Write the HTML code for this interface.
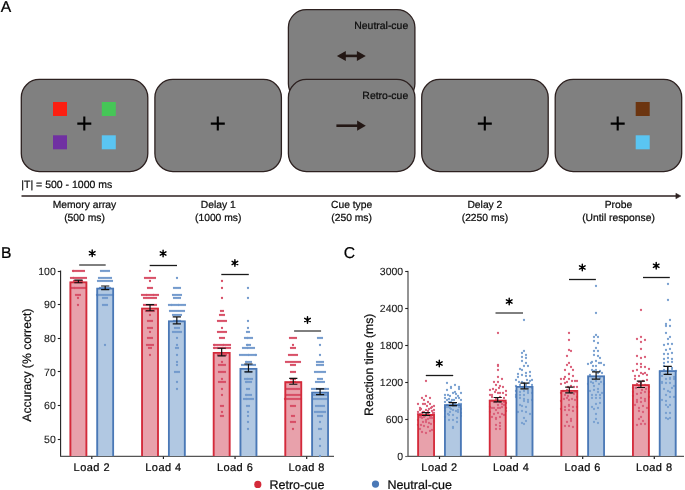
<!DOCTYPE html>
<html><head><meta charset="utf-8"><style>html,body{margin:0;padding:0;background:#fff;}svg{display:block;will-change:transform;text-rendering:geometricPrecision;} text{stroke:currentColor;stroke-width:0.22px;}</style></head>
<body><svg width="685" height="490" viewBox="0 0 685 490" font-family="'Liberation Sans', sans-serif">
<rect width="685" height="490" fill="#fff"/>
<text x="0.8" y="11.9" font-size="15.7" fill="#000">A</text>
<rect x="21.3" y="79.4" width="126.5" height="92.2" rx="18" ry="18" fill="#808080" stroke="#2d2120" stroke-width="1.3"/>
<rect x="53" y="102" width="14" height="14" fill="#fb1f12"/>
<rect x="101.8" y="102" width="14" height="14" fill="#46c657"/>
<rect x="53" y="135.3" width="14" height="14" fill="#7030a2"/>
<rect x="101.8" y="135.3" width="14" height="14" fill="#5ac5f2"/>
<path d="M77.3 123.6H91.3M84.3 116.6V130.6" stroke="#000" stroke-width="2.1" fill="none"/>
<rect x="154.9" y="79.4" width="126.5" height="92.2" rx="18" ry="18" fill="#808080" stroke="#2d2120" stroke-width="1.3"/>
<path d="M210.8 123.6H224.8M217.8 116.6V130.6" stroke="#000" stroke-width="2.1" fill="none"/>
<rect x="288.4" y="9.6" width="126.5" height="92.2" rx="18" ry="18" fill="#808080" stroke="#2d2120" stroke-width="1.3"/>
<text x="408.2" y="29.2" font-size="10.45" text-anchor="end" fill="#111">Neutral-cue</text>
<path d="M344.9 55.9H357.8" stroke="#231714" stroke-width="2.6"/>
<path d="M336.9 55.9L345.79999999999995 50.9L345.79999999999995 60.9Z" fill="#231714"/>
<path d="M365.8 55.9L356.90000000000003 50.9L356.90000000000003 60.9Z" fill="#231714"/>
<rect x="288.4" y="79.4" width="126.5" height="92.2" rx="18" ry="18" fill="#808080" stroke="#2d2120" stroke-width="1.3"/>
<text x="408.2" y="99.2" font-size="10.45" text-anchor="end" fill="#111">Retro-cue</text>
<path d="M336.4 125.7H357.8" stroke="#231714" stroke-width="2.6"/>
<path d="M365.8 125.7L357.1 120.60000000000001L357.1 130.8Z" fill="#231714"/>
<rect x="421.7" y="79.4" width="126.5" height="92.2" rx="18" ry="18" fill="#808080" stroke="#2d2120" stroke-width="1.3"/>
<path d="M477.8 123.6H491.8M484.8 116.6V130.6" stroke="#000" stroke-width="2.1" fill="none"/>
<rect x="555.2" y="79.4" width="126.5" height="92.2" rx="18" ry="18" fill="#808080" stroke="#2d2120" stroke-width="1.3"/>
<path d="M610.7 123.6H624.7M617.7 116.6V130.6" stroke="#000" stroke-width="2.1" fill="none"/>
<rect x="635.7" y="102" width="14" height="14" fill="#6c3510"/>
<rect x="635.7" y="135.3" width="14" height="14" fill="#5ac5f2"/>
<text x="21.3" y="187.6" font-size="10.5" fill="#111">|T| = 500 - 1000 ms</text>
<path d="M21.5 196H677.5" stroke="#2d2120" stroke-width="1.3"/>
<path d="M680.9 196L675.9 193.3L675.9 198.7Z" fill="#2d2120" stroke="#2d2120" stroke-width="0.5" stroke-linejoin="round"/>
<text x="84.5" y="208.4" font-size="10.3" text-anchor="middle" fill="#111">Memory array</text>
<text x="84.5" y="220.6" font-size="10.3" text-anchor="middle" fill="#111">(500 ms)</text>
<text x="218.2" y="208.4" font-size="10.3" text-anchor="middle" fill="#111">Delay 1</text>
<text x="218.2" y="220.6" font-size="10.3" text-anchor="middle" fill="#111">(1000 ms)</text>
<text x="351.6" y="208.4" font-size="10.3" text-anchor="middle" fill="#111">Cue type</text>
<text x="351.6" y="220.6" font-size="10.3" text-anchor="middle" fill="#111">(250 ms)</text>
<text x="484.9" y="208.4" font-size="10.3" text-anchor="middle" fill="#111">Delay 2</text>
<text x="484.9" y="220.6" font-size="10.3" text-anchor="middle" fill="#111">(2250 ms)</text>
<text x="618.5" y="208.4" font-size="10.3" text-anchor="middle" fill="#111">Probe</text>
<text x="618.5" y="220.6" font-size="10.3" text-anchor="middle" fill="#111">(Until response)</text>
<text x="1" y="258.3" font-size="15.7" fill="#000">B</text>
<path d="M60.6 270.50V456.5" stroke="#222" stroke-width="1.1" fill="none"/>
<path d="M60.1 456.3H334" stroke="#555" stroke-width="1.2" fill="none"/>
<path d="M57.800000000000004 439.50H60.6" stroke="#222" stroke-width="1.1"/>
<text x="55.800000000000004" y="442.90" font-size="10.5" text-anchor="end" fill="#222" style="stroke-width:0.08px">50</text>
<path d="M57.800000000000004 405.50H60.6" stroke="#222" stroke-width="1.1"/>
<text x="55.800000000000004" y="409.26" font-size="10.5" text-anchor="end" fill="#222" style="stroke-width:0.08px">60</text>
<path d="M57.800000000000004 371.50H60.6" stroke="#222" stroke-width="1.1"/>
<text x="55.800000000000004" y="375.62" font-size="10.5" text-anchor="end" fill="#222" style="stroke-width:0.08px">70</text>
<path d="M57.800000000000004 338.50H60.6" stroke="#222" stroke-width="1.1"/>
<text x="55.800000000000004" y="341.98" font-size="10.5" text-anchor="end" fill="#222" style="stroke-width:0.08px">80</text>
<path d="M57.800000000000004 304.50H60.6" stroke="#222" stroke-width="1.1"/>
<text x="55.800000000000004" y="308.34" font-size="10.5" text-anchor="end" fill="#222" style="stroke-width:0.08px">90</text>
<path d="M57.800000000000004 271.50H60.6" stroke="#222" stroke-width="1.1"/>
<text x="55.800000000000004" y="274.70" font-size="10.5" text-anchor="end" fill="#222" style="stroke-width:0.08px">100</text>
<path d="M91.80 456.5V459" stroke="#222" stroke-width="1.2"/>
<text x="91.80" y="470.7" font-size="11" letter-spacing="0.45" text-anchor="middle" fill="#111">Load 2</text>
<path d="M163.43 456.5V459" stroke="#222" stroke-width="1.2"/>
<text x="163.43" y="470.7" font-size="11" letter-spacing="0.45" text-anchor="middle" fill="#111">Load 4</text>
<path d="M235.06 456.5V459" stroke="#222" stroke-width="1.2"/>
<text x="235.06" y="470.7" font-size="11" letter-spacing="0.45" text-anchor="middle" fill="#111">Load 6</text>
<path d="M306.69 456.5V459" stroke="#222" stroke-width="1.2"/>
<text x="306.69" y="470.7" font-size="11" letter-spacing="0.45" text-anchor="middle" fill="#111">Load 8</text>
<text transform="translate(31,365.1) rotate(-90)" font-size="12.2" text-anchor="middle" fill="#111">Accuracy (% correct)</text>
<rect x="69.55" y="281.43" width="17.7" height="174.67" fill="#e8a1ab"/>
<g fill="#d74c64"><circle cx="73" cy="271" r="1.15"/><circle cx="74" cy="271" r="1.15"/><circle cx="76" cy="271" r="1.15"/><circle cx="78" cy="271" r="1.15"/><circle cx="80" cy="271" r="1.15"/><circle cx="82" cy="271" r="1.15"/><circle cx="84" cy="271" r="1.15"/><circle cx="71" cy="278" r="1.15"/><circle cx="73" cy="278" r="1.15"/><circle cx="74" cy="278" r="1.15"/><circle cx="76" cy="278" r="1.15"/><circle cx="78" cy="278" r="1.15"/><circle cx="80" cy="278" r="1.15"/><circle cx="82" cy="278" r="1.15"/><circle cx="84" cy="278" r="1.15"/><circle cx="86" cy="278" r="1.15"/><circle cx="74" cy="281" r="1.15"/><circle cx="76" cy="281" r="1.15"/><circle cx="78" cy="281" r="1.15"/><circle cx="80" cy="281" r="1.15"/><circle cx="82" cy="281" r="1.15"/><circle cx="72" cy="288" r="1.15"/><circle cx="74" cy="288" r="1.15"/><circle cx="75" cy="288" r="1.15"/><circle cx="77" cy="288" r="1.15"/><circle cx="79" cy="288" r="1.15"/><circle cx="81" cy="288" r="1.15"/><circle cx="83" cy="288" r="1.15"/><circle cx="85" cy="288" r="1.15"/><circle cx="76" cy="295" r="1.15"/><circle cx="78" cy="295" r="1.15"/><circle cx="80" cy="295" r="1.15"/><circle cx="78" cy="298" r="1.15"/><circle cx="78" cy="305" r="1.15"/></g>
<path d="M70.45 456.1V282.33H86.35V456.1" fill="none" stroke="#d42a3a" stroke-width="1.8"/>
<path d="M74.30 280.13H82.50M74.30 282.73H82.50M78.40 280.13V282.73" stroke="#111" stroke-width="1.2" fill="none"/>
<rect x="96.35" y="287.82" width="17.7" height="168.28" fill="#b1c8e2"/>
<g fill="#7199cc"><circle cx="101" cy="271" r="1.15"/><circle cx="103" cy="271" r="1.15"/><circle cx="105" cy="271" r="1.15"/><circle cx="107" cy="271" r="1.15"/><circle cx="109" cy="271" r="1.15"/><circle cx="99" cy="278" r="1.15"/><circle cx="101" cy="278" r="1.15"/><circle cx="103" cy="278" r="1.15"/><circle cx="105" cy="278" r="1.15"/><circle cx="107" cy="278" r="1.15"/><circle cx="109" cy="278" r="1.15"/><circle cx="111" cy="278" r="1.15"/><circle cx="98" cy="281" r="1.15"/><circle cx="100" cy="281" r="1.15"/><circle cx="102" cy="281" r="1.15"/><circle cx="104" cy="281" r="1.15"/><circle cx="106" cy="281" r="1.15"/><circle cx="108" cy="281" r="1.15"/><circle cx="110" cy="281" r="1.15"/><circle cx="112" cy="281" r="1.15"/><circle cx="100" cy="288" r="1.15"/><circle cx="102" cy="288" r="1.15"/><circle cx="104" cy="288" r="1.15"/><circle cx="106" cy="288" r="1.15"/><circle cx="108" cy="288" r="1.15"/><circle cx="110" cy="288" r="1.15"/><circle cx="97" cy="295" r="1.15"/><circle cx="99" cy="295" r="1.15"/><circle cx="101" cy="295" r="1.15"/><circle cx="103" cy="295" r="1.15"/><circle cx="105" cy="295" r="1.15"/><circle cx="107" cy="295" r="1.15"/><circle cx="109" cy="295" r="1.15"/><circle cx="111" cy="295" r="1.15"/><circle cx="113" cy="295" r="1.15"/><circle cx="103" cy="298" r="1.15"/><circle cx="105" cy="298" r="1.15"/><circle cx="107" cy="298" r="1.15"/><circle cx="103" cy="305" r="1.15"/><circle cx="105" cy="305" r="1.15"/><circle cx="107" cy="305" r="1.15"/><circle cx="105" cy="345" r="1.15"/></g>
<path d="M97.25 456.1V288.72H113.15V456.1" fill="none" stroke="#4a78b6" stroke-width="1.8"/>
<path d="M101.10 286.02H109.30M101.10 289.62H109.30M105.20 286.02V289.62" stroke="#111" stroke-width="1.2" fill="none"/>
<rect x="141.18" y="307.67" width="17.7" height="148.43" fill="#e8a1ab"/>
<g fill="#d74c64"><circle cx="150" cy="271" r="1.15"/><circle cx="145" cy="278" r="1.15"/><circle cx="147" cy="278" r="1.15"/><circle cx="149" cy="278" r="1.15"/><circle cx="151" cy="278" r="1.15"/><circle cx="153" cy="278" r="1.15"/><circle cx="155" cy="278" r="1.15"/><circle cx="150" cy="281" r="1.15"/><circle cx="148" cy="288" r="1.15"/><circle cx="150" cy="288" r="1.15"/><circle cx="152" cy="288" r="1.15"/><circle cx="142" cy="295" r="1.15"/><circle cx="144" cy="295" r="1.15"/><circle cx="146" cy="295" r="1.15"/><circle cx="147" cy="295" r="1.15"/><circle cx="149" cy="295" r="1.15"/><circle cx="151" cy="295" r="1.15"/><circle cx="153" cy="295" r="1.15"/><circle cx="154" cy="295" r="1.15"/><circle cx="156" cy="295" r="1.15"/><circle cx="158" cy="295" r="1.15"/><circle cx="144" cy="298" r="1.15"/><circle cx="146" cy="298" r="1.15"/><circle cx="148" cy="298" r="1.15"/><circle cx="150" cy="298" r="1.15"/><circle cx="152" cy="298" r="1.15"/><circle cx="154" cy="298" r="1.15"/><circle cx="156" cy="298" r="1.15"/><circle cx="144" cy="305" r="1.15"/><circle cx="146" cy="305" r="1.15"/><circle cx="148" cy="305" r="1.15"/><circle cx="150" cy="305" r="1.15"/><circle cx="152" cy="305" r="1.15"/><circle cx="154" cy="305" r="1.15"/><circle cx="156" cy="305" r="1.15"/><circle cx="146" cy="311" r="1.15"/><circle cx="148" cy="311" r="1.15"/><circle cx="150" cy="311" r="1.15"/><circle cx="152" cy="311" r="1.15"/><circle cx="154" cy="311" r="1.15"/><circle cx="150" cy="315" r="1.15"/><circle cx="148" cy="321" r="1.15"/><circle cx="150" cy="321" r="1.15"/><circle cx="152" cy="321" r="1.15"/><circle cx="148" cy="328" r="1.15"/><circle cx="150" cy="328" r="1.15"/><circle cx="152" cy="328" r="1.15"/><circle cx="150" cy="332" r="1.15"/><circle cx="148" cy="338" r="1.15"/><circle cx="150" cy="338" r="1.15"/><circle cx="152" cy="338" r="1.15"/><circle cx="147" cy="345" r="1.15"/><circle cx="149" cy="345" r="1.15"/><circle cx="151" cy="345" r="1.15"/><circle cx="153" cy="345" r="1.15"/><circle cx="149" cy="348" r="1.15"/><circle cx="151" cy="348" r="1.15"/><circle cx="150" cy="355" r="1.15"/></g>
<path d="M142.08 456.1V308.57H157.98V456.1" fill="none" stroke="#d42a3a" stroke-width="1.8"/>
<path d="M145.93 304.57H154.13M145.93 310.77H154.13M150.03 304.57V310.77" stroke="#111" stroke-width="1.2" fill="none"/>
<rect x="167.98" y="320.45" width="17.7" height="135.65" fill="#b1c8e2"/>
<g fill="#7199cc"><circle cx="177" cy="278" r="1.15"/><circle cx="174" cy="288" r="1.15"/><circle cx="176" cy="288" r="1.15"/><circle cx="178" cy="288" r="1.15"/><circle cx="180" cy="288" r="1.15"/><circle cx="173" cy="295" r="1.15"/><circle cx="175" cy="295" r="1.15"/><circle cx="177" cy="295" r="1.15"/><circle cx="179" cy="295" r="1.15"/><circle cx="181" cy="295" r="1.15"/><circle cx="174" cy="298" r="1.15"/><circle cx="176" cy="298" r="1.15"/><circle cx="178" cy="298" r="1.15"/><circle cx="180" cy="298" r="1.15"/><circle cx="169" cy="305" r="1.15"/><circle cx="171" cy="305" r="1.15"/><circle cx="172" cy="305" r="1.15"/><circle cx="174" cy="305" r="1.15"/><circle cx="176" cy="305" r="1.15"/><circle cx="178" cy="305" r="1.15"/><circle cx="179" cy="305" r="1.15"/><circle cx="181" cy="305" r="1.15"/><circle cx="183" cy="305" r="1.15"/><circle cx="185" cy="305" r="1.15"/><circle cx="170" cy="311" r="1.15"/><circle cx="172" cy="311" r="1.15"/><circle cx="174" cy="311" r="1.15"/><circle cx="176" cy="311" r="1.15"/><circle cx="178" cy="311" r="1.15"/><circle cx="180" cy="311" r="1.15"/><circle cx="182" cy="311" r="1.15"/><circle cx="184" cy="311" r="1.15"/><circle cx="173" cy="315" r="1.15"/><circle cx="175" cy="315" r="1.15"/><circle cx="177" cy="315" r="1.15"/><circle cx="179" cy="315" r="1.15"/><circle cx="181" cy="315" r="1.15"/><circle cx="174" cy="321" r="1.15"/><circle cx="176" cy="321" r="1.15"/><circle cx="178" cy="321" r="1.15"/><circle cx="180" cy="321" r="1.15"/><circle cx="175" cy="328" r="1.15"/><circle cx="177" cy="328" r="1.15"/><circle cx="179" cy="328" r="1.15"/><circle cx="173" cy="332" r="1.15"/><circle cx="175" cy="332" r="1.15"/><circle cx="177" cy="332" r="1.15"/><circle cx="179" cy="332" r="1.15"/><circle cx="181" cy="332" r="1.15"/><circle cx="177" cy="338" r="1.15"/><circle cx="177" cy="345" r="1.15"/><circle cx="176" cy="348" r="1.15"/><circle cx="178" cy="348" r="1.15"/><circle cx="177" cy="355" r="1.15"/><circle cx="177" cy="362" r="1.15"/><circle cx="177" cy="365" r="1.15"/><circle cx="175" cy="372" r="1.15"/><circle cx="177" cy="372" r="1.15"/><circle cx="179" cy="372" r="1.15"/><circle cx="177" cy="382" r="1.15"/><circle cx="177" cy="389" r="1.15"/></g>
<path d="M168.88 456.1V321.35H184.78V456.1" fill="none" stroke="#4a78b6" stroke-width="1.8"/>
<path d="M172.73 316.95H180.93M172.73 323.95H180.93M176.83 316.95V323.95" stroke="#111" stroke-width="1.2" fill="none"/>
<rect x="212.81" y="352.07" width="17.7" height="104.03" fill="#e8a1ab"/>
<g fill="#d74c64"><circle cx="222" cy="281" r="1.15"/><circle cx="222" cy="288" r="1.15"/><circle cx="222" cy="298" r="1.15"/><circle cx="221" cy="311" r="1.15"/><circle cx="223" cy="311" r="1.15"/><circle cx="220" cy="315" r="1.15"/><circle cx="222" cy="315" r="1.15"/><circle cx="224" cy="315" r="1.15"/><circle cx="218" cy="321" r="1.15"/><circle cx="220" cy="321" r="1.15"/><circle cx="222" cy="321" r="1.15"/><circle cx="224" cy="321" r="1.15"/><circle cx="226" cy="321" r="1.15"/><circle cx="222" cy="328" r="1.15"/><circle cx="218" cy="332" r="1.15"/><circle cx="220" cy="332" r="1.15"/><circle cx="222" cy="332" r="1.15"/><circle cx="224" cy="332" r="1.15"/><circle cx="226" cy="332" r="1.15"/><circle cx="220" cy="338" r="1.15"/><circle cx="222" cy="338" r="1.15"/><circle cx="224" cy="338" r="1.15"/><circle cx="214" cy="345" r="1.15"/><circle cx="215" cy="345" r="1.15"/><circle cx="217" cy="345" r="1.15"/><circle cx="219" cy="345" r="1.15"/><circle cx="221" cy="345" r="1.15"/><circle cx="223" cy="345" r="1.15"/><circle cx="224" cy="345" r="1.15"/><circle cx="226" cy="345" r="1.15"/><circle cx="228" cy="345" r="1.15"/><circle cx="230" cy="345" r="1.15"/><circle cx="214" cy="348" r="1.15"/><circle cx="215" cy="348" r="1.15"/><circle cx="217" cy="348" r="1.15"/><circle cx="218" cy="348" r="1.15"/><circle cx="220" cy="348" r="1.15"/><circle cx="222" cy="348" r="1.15"/><circle cx="223" cy="348" r="1.15"/><circle cx="225" cy="348" r="1.15"/><circle cx="226" cy="348" r="1.15"/><circle cx="228" cy="348" r="1.15"/><circle cx="230" cy="348" r="1.15"/><circle cx="218" cy="355" r="1.15"/><circle cx="220" cy="355" r="1.15"/><circle cx="222" cy="355" r="1.15"/><circle cx="224" cy="355" r="1.15"/><circle cx="226" cy="355" r="1.15"/><circle cx="222" cy="362" r="1.15"/><circle cx="219" cy="365" r="1.15"/><circle cx="221" cy="365" r="1.15"/><circle cx="223" cy="365" r="1.15"/><circle cx="225" cy="365" r="1.15"/><circle cx="219" cy="372" r="1.15"/><circle cx="221" cy="372" r="1.15"/><circle cx="223" cy="372" r="1.15"/><circle cx="225" cy="372" r="1.15"/><circle cx="222" cy="379" r="1.15"/><circle cx="219" cy="382" r="1.15"/><circle cx="221" cy="382" r="1.15"/><circle cx="223" cy="382" r="1.15"/><circle cx="225" cy="382" r="1.15"/><circle cx="222" cy="389" r="1.15"/><circle cx="222" cy="395" r="1.15"/><circle cx="221" cy="406" r="1.15"/><circle cx="223" cy="406" r="1.15"/><circle cx="222" cy="412" r="1.15"/><circle cx="221" cy="416" r="1.15"/><circle cx="223" cy="416" r="1.15"/></g>
<path d="M213.71 456.1V352.97H229.61V456.1" fill="none" stroke="#d42a3a" stroke-width="1.8"/>
<path d="M217.56 348.27H225.76M217.56 355.87H225.76M221.66 348.27V355.87" stroke="#111" stroke-width="1.2" fill="none"/>
<rect x="239.61" y="367.88" width="17.7" height="88.22" fill="#b1c8e2"/>
<g fill="#7199cc"><circle cx="248" cy="288" r="1.15"/><circle cx="248" cy="298" r="1.15"/><circle cx="248" cy="321" r="1.15"/><circle cx="248" cy="328" r="1.15"/><circle cx="247" cy="332" r="1.15"/><circle cx="249" cy="332" r="1.15"/><circle cx="245" cy="338" r="1.15"/><circle cx="247" cy="338" r="1.15"/><circle cx="248" cy="338" r="1.15"/><circle cx="250" cy="338" r="1.15"/><circle cx="252" cy="338" r="1.15"/><circle cx="247" cy="345" r="1.15"/><circle cx="248" cy="345" r="1.15"/><circle cx="250" cy="345" r="1.15"/><circle cx="243" cy="348" r="1.15"/><circle cx="245" cy="348" r="1.15"/><circle cx="247" cy="348" r="1.15"/><circle cx="248" cy="348" r="1.15"/><circle cx="250" cy="348" r="1.15"/><circle cx="252" cy="348" r="1.15"/><circle cx="254" cy="348" r="1.15"/><circle cx="240" cy="355" r="1.15"/><circle cx="242" cy="355" r="1.15"/><circle cx="244" cy="355" r="1.15"/><circle cx="246" cy="355" r="1.15"/><circle cx="248" cy="355" r="1.15"/><circle cx="249" cy="355" r="1.15"/><circle cx="251" cy="355" r="1.15"/><circle cx="253" cy="355" r="1.15"/><circle cx="255" cy="355" r="1.15"/><circle cx="256" cy="355" r="1.15"/><circle cx="246" cy="362" r="1.15"/><circle cx="247" cy="362" r="1.15"/><circle cx="249" cy="362" r="1.15"/><circle cx="251" cy="362" r="1.15"/><circle cx="242" cy="365" r="1.15"/><circle cx="244" cy="365" r="1.15"/><circle cx="246" cy="365" r="1.15"/><circle cx="247" cy="365" r="1.15"/><circle cx="249" cy="365" r="1.15"/><circle cx="251" cy="365" r="1.15"/><circle cx="253" cy="365" r="1.15"/><circle cx="255" cy="365" r="1.15"/><circle cx="246" cy="372" r="1.15"/><circle cx="247" cy="372" r="1.15"/><circle cx="249" cy="372" r="1.15"/><circle cx="251" cy="372" r="1.15"/><circle cx="245" cy="379" r="1.15"/><circle cx="247" cy="379" r="1.15"/><circle cx="248" cy="379" r="1.15"/><circle cx="250" cy="379" r="1.15"/><circle cx="252" cy="379" r="1.15"/><circle cx="246" cy="382" r="1.15"/><circle cx="247" cy="382" r="1.15"/><circle cx="249" cy="382" r="1.15"/><circle cx="251" cy="382" r="1.15"/><circle cx="247" cy="389" r="1.15"/><circle cx="249" cy="389" r="1.15"/><circle cx="246" cy="395" r="1.15"/><circle cx="247" cy="395" r="1.15"/><circle cx="249" cy="395" r="1.15"/><circle cx="251" cy="395" r="1.15"/><circle cx="244" cy="399" r="1.15"/><circle cx="246" cy="399" r="1.15"/><circle cx="247" cy="399" r="1.15"/><circle cx="249" cy="399" r="1.15"/><circle cx="251" cy="399" r="1.15"/><circle cx="253" cy="399" r="1.15"/><circle cx="247" cy="406" r="1.15"/><circle cx="249" cy="406" r="1.15"/><circle cx="248" cy="412" r="1.15"/><circle cx="248" cy="416" r="1.15"/><circle cx="248" cy="422" r="1.15"/><circle cx="248" cy="429" r="1.15"/></g>
<path d="M240.51 456.1V368.78H256.41V456.1" fill="none" stroke="#4a78b6" stroke-width="1.8"/>
<path d="M244.36 363.98H252.56M244.36 371.78H252.56M248.46 363.98V371.78" stroke="#111" stroke-width="1.2" fill="none"/>
<rect x="284.44" y="381.34" width="17.7" height="74.76" fill="#e8a1ab"/>
<g fill="#d74c64"><circle cx="290" cy="338" r="1.15"/><circle cx="292" cy="338" r="1.15"/><circle cx="294" cy="338" r="1.15"/><circle cx="296" cy="338" r="1.15"/><circle cx="293" cy="345" r="1.15"/><circle cx="291" cy="348" r="1.15"/><circle cx="293" cy="348" r="1.15"/><circle cx="295" cy="348" r="1.15"/><circle cx="289" cy="355" r="1.15"/><circle cx="291" cy="355" r="1.15"/><circle cx="293" cy="355" r="1.15"/><circle cx="295" cy="355" r="1.15"/><circle cx="297" cy="355" r="1.15"/><circle cx="286" cy="362" r="1.15"/><circle cx="288" cy="362" r="1.15"/><circle cx="290" cy="362" r="1.15"/><circle cx="292" cy="362" r="1.15"/><circle cx="294" cy="362" r="1.15"/><circle cx="296" cy="362" r="1.15"/><circle cx="298" cy="362" r="1.15"/><circle cx="300" cy="362" r="1.15"/><circle cx="291" cy="365" r="1.15"/><circle cx="293" cy="365" r="1.15"/><circle cx="295" cy="365" r="1.15"/><circle cx="291" cy="372" r="1.15"/><circle cx="293" cy="372" r="1.15"/><circle cx="295" cy="372" r="1.15"/><circle cx="291" cy="379" r="1.15"/><circle cx="293" cy="379" r="1.15"/><circle cx="295" cy="379" r="1.15"/><circle cx="291" cy="382" r="1.15"/><circle cx="293" cy="382" r="1.15"/><circle cx="295" cy="382" r="1.15"/><circle cx="287" cy="389" r="1.15"/><circle cx="289" cy="389" r="1.15"/><circle cx="291" cy="389" r="1.15"/><circle cx="293" cy="389" r="1.15"/><circle cx="295" cy="389" r="1.15"/><circle cx="297" cy="389" r="1.15"/><circle cx="299" cy="389" r="1.15"/><circle cx="286" cy="395" r="1.15"/><circle cx="288" cy="395" r="1.15"/><circle cx="290" cy="395" r="1.15"/><circle cx="292" cy="395" r="1.15"/><circle cx="294" cy="395" r="1.15"/><circle cx="296" cy="395" r="1.15"/><circle cx="298" cy="395" r="1.15"/><circle cx="300" cy="395" r="1.15"/><circle cx="285" cy="399" r="1.15"/><circle cx="287" cy="399" r="1.15"/><circle cx="289" cy="399" r="1.15"/><circle cx="291" cy="399" r="1.15"/><circle cx="293" cy="399" r="1.15"/><circle cx="295" cy="399" r="1.15"/><circle cx="297" cy="399" r="1.15"/><circle cx="299" cy="399" r="1.15"/><circle cx="301" cy="399" r="1.15"/><circle cx="291" cy="406" r="1.15"/><circle cx="293" cy="406" r="1.15"/><circle cx="295" cy="406" r="1.15"/><circle cx="292" cy="416" r="1.15"/><circle cx="294" cy="416" r="1.15"/><circle cx="291" cy="422" r="1.15"/><circle cx="293" cy="422" r="1.15"/><circle cx="295" cy="422" r="1.15"/><circle cx="293" cy="429" r="1.15"/></g>
<path d="M285.34 456.1V382.24H301.24V456.1" fill="none" stroke="#d42a3a" stroke-width="1.8"/>
<path d="M289.19 378.44H297.39M289.19 384.24H297.39M293.29 378.44V384.24" stroke="#111" stroke-width="1.2" fill="none"/>
<rect x="311.24" y="391.77" width="17.7" height="64.33" fill="#b1c8e2"/>
<g fill="#7199cc"><circle cx="318" cy="338" r="1.15"/><circle cx="320" cy="338" r="1.15"/><circle cx="322" cy="338" r="1.15"/><circle cx="320" cy="345" r="1.15"/><circle cx="320" cy="355" r="1.15"/><circle cx="317" cy="362" r="1.15"/><circle cx="319" cy="362" r="1.15"/><circle cx="321" cy="362" r="1.15"/><circle cx="323" cy="362" r="1.15"/><circle cx="317" cy="365" r="1.15"/><circle cx="319" cy="365" r="1.15"/><circle cx="321" cy="365" r="1.15"/><circle cx="323" cy="365" r="1.15"/><circle cx="315" cy="372" r="1.15"/><circle cx="317" cy="372" r="1.15"/><circle cx="319" cy="372" r="1.15"/><circle cx="321" cy="372" r="1.15"/><circle cx="323" cy="372" r="1.15"/><circle cx="325" cy="372" r="1.15"/><circle cx="318" cy="379" r="1.15"/><circle cx="320" cy="379" r="1.15"/><circle cx="322" cy="379" r="1.15"/><circle cx="316" cy="382" r="1.15"/><circle cx="318" cy="382" r="1.15"/><circle cx="320" cy="382" r="1.15"/><circle cx="322" cy="382" r="1.15"/><circle cx="324" cy="382" r="1.15"/><circle cx="312" cy="389" r="1.15"/><circle cx="314" cy="389" r="1.15"/><circle cx="316" cy="389" r="1.15"/><circle cx="317" cy="389" r="1.15"/><circle cx="319" cy="389" r="1.15"/><circle cx="321" cy="389" r="1.15"/><circle cx="323" cy="389" r="1.15"/><circle cx="325" cy="389" r="1.15"/><circle cx="326" cy="389" r="1.15"/><circle cx="328" cy="389" r="1.15"/><circle cx="313" cy="395" r="1.15"/><circle cx="315" cy="395" r="1.15"/><circle cx="317" cy="395" r="1.15"/><circle cx="319" cy="395" r="1.15"/><circle cx="321" cy="395" r="1.15"/><circle cx="323" cy="395" r="1.15"/><circle cx="325" cy="395" r="1.15"/><circle cx="327" cy="395" r="1.15"/><circle cx="313" cy="399" r="1.15"/><circle cx="315" cy="399" r="1.15"/><circle cx="317" cy="399" r="1.15"/><circle cx="319" cy="399" r="1.15"/><circle cx="321" cy="399" r="1.15"/><circle cx="323" cy="399" r="1.15"/><circle cx="325" cy="399" r="1.15"/><circle cx="327" cy="399" r="1.15"/><circle cx="316" cy="406" r="1.15"/><circle cx="318" cy="406" r="1.15"/><circle cx="320" cy="406" r="1.15"/><circle cx="322" cy="406" r="1.15"/><circle cx="324" cy="406" r="1.15"/><circle cx="315" cy="412" r="1.15"/><circle cx="317" cy="412" r="1.15"/><circle cx="319" cy="412" r="1.15"/><circle cx="321" cy="412" r="1.15"/><circle cx="323" cy="412" r="1.15"/><circle cx="325" cy="412" r="1.15"/><circle cx="318" cy="416" r="1.15"/><circle cx="320" cy="416" r="1.15"/><circle cx="322" cy="416" r="1.15"/><circle cx="320" cy="422" r="1.15"/><circle cx="319" cy="429" r="1.15"/><circle cx="321" cy="429" r="1.15"/><circle cx="320" cy="439" r="1.15"/><circle cx="320" cy="446" r="1.15"/><circle cx="320" cy="456" r="1.15"/></g>
<path d="M312.14 456.1V392.67H328.04V456.1" fill="none" stroke="#4a78b6" stroke-width="1.8"/>
<path d="M315.99 388.87H324.19M315.99 394.67H324.19M320.09 388.87V394.67" stroke="#111" stroke-width="1.2" fill="none"/>
<path d="M79.2 265H105.7" stroke="#000" stroke-width="1.0"/>
<path d="M92.2 249.95V256.45M89.39 251.57L95.01 254.82M89.39 254.82L95.01 251.57" stroke="#000" stroke-width="1.45" stroke-linecap="round"/>
<circle cx="92.2" cy="253.2" r="1.3" fill="#000"/>
<path d="M149.7 265.5H177" stroke="#1a1a1a" stroke-width="1.3"/>
<path d="M163.1 250.25V256.75M160.29 251.88L165.91 255.12M160.29 255.12L165.91 251.88" stroke="#000" stroke-width="1.45" stroke-linecap="round"/>
<circle cx="163.1" cy="253.5" r="1.3" fill="#000"/>
<path d="M221.3 274.5H248.8" stroke="#1a1a1a" stroke-width="1.3"/>
<path d="M234.9 259.65V266.15M232.09 261.27L237.71 264.52M232.09 264.52L237.71 261.27" stroke="#000" stroke-width="1.45" stroke-linecap="round"/>
<circle cx="234.9" cy="262.9" r="1.3" fill="#000"/>
<path d="M294.1 331H321.1" stroke="#000" stroke-width="1.0"/>
<path d="M307.5 316.65V323.15M304.69 318.27L310.31 321.52M304.69 321.52L310.31 318.27" stroke="#000" stroke-width="1.45" stroke-linecap="round"/>
<circle cx="307.5" cy="319.9" r="1.3" fill="#000"/>
<text x="343.7" y="258.3" font-size="15.7" fill="#000">C</text>
<path d="M408 270.86V456.5" stroke="#000" stroke-width="0.85" fill="none"/>
<path d="M407.5 456.3H684" stroke="#555" stroke-width="1.2" fill="none"/>
<path d="M405.2 456.50H408" stroke="#666" stroke-width="1.1"/>
<text x="403.2" y="459.80" font-size="10.5" text-anchor="end" fill="#222" style="stroke-width:0.08px">0</text>
<path d="M405.2 419.50H408" stroke="#222" stroke-width="1.1"/>
<text x="403.2" y="422.85" font-size="10.5" text-anchor="end" fill="#222" style="stroke-width:0.08px">600</text>
<path d="M405.2 382.50H408" stroke="#222" stroke-width="1.1"/>
<text x="403.2" y="385.90" font-size="10.5" text-anchor="end" fill="#222" style="stroke-width:0.08px">1200</text>
<path d="M405.2 345.50H408" stroke="#222" stroke-width="1.1"/>
<text x="403.2" y="348.96" font-size="10.5" text-anchor="end" fill="#222" style="stroke-width:0.08px">1800</text>
<path d="M405.2 308.50H408" stroke="#222" stroke-width="1.1"/>
<text x="403.2" y="312.01" font-size="10.5" text-anchor="end" fill="#222" style="stroke-width:0.08px">2400</text>
<path d="M405.2 271.50H408" stroke="#222" stroke-width="1.1"/>
<text x="403.2" y="275.06" font-size="10.5" text-anchor="end" fill="#222" style="stroke-width:0.08px">3000</text>
<path d="M439.50 456.5V459" stroke="#222" stroke-width="1.2"/>
<text x="439.50" y="470.7" font-size="11" letter-spacing="0.45" text-anchor="middle" fill="#111">Load 2</text>
<path d="M511.10 456.5V459" stroke="#222" stroke-width="1.2"/>
<text x="511.10" y="470.7" font-size="11" letter-spacing="0.45" text-anchor="middle" fill="#111">Load 4</text>
<path d="M582.70 456.5V459" stroke="#222" stroke-width="1.2"/>
<text x="582.70" y="470.7" font-size="11" letter-spacing="0.45" text-anchor="middle" fill="#111">Load 6</text>
<path d="M654.30 456.5V459" stroke="#222" stroke-width="1.2"/>
<text x="654.30" y="470.7" font-size="11" letter-spacing="0.45" text-anchor="middle" fill="#111">Load 8</text>
<text transform="translate(373,364.8) rotate(-90)" font-size="12.2" text-anchor="middle" fill="#111">Reaction time (ms)</text>
<rect x="417.25" y="414.10" width="17.7" height="42.00" fill="#e8a1ab"/>
<g fill="#da5e78"><circle cx="426" cy="381" r="1.15"/><circle cx="422" cy="398" r="1.15"/><circle cx="426" cy="396" r="1.15"/><circle cx="430" cy="398" r="1.15"/><circle cx="424" cy="400" r="1.15"/><circle cx="428" cy="402" r="1.15"/><circle cx="418" cy="404" r="1.15"/><circle cx="420" cy="408" r="1.15"/><circle cx="423" cy="404" r="1.15"/><circle cx="425" cy="404" r="1.15"/><circle cx="427" cy="406" r="1.15"/><circle cx="430" cy="404" r="1.15"/><circle cx="432" cy="407" r="1.15"/><circle cx="434" cy="406" r="1.15"/><circle cx="418" cy="412" r="1.15"/><circle cx="420" cy="410" r="1.15"/><circle cx="421" cy="409" r="1.15"/><circle cx="423" cy="412" r="1.15"/><circle cx="424" cy="412" r="1.15"/><circle cx="426" cy="410" r="1.15"/><circle cx="428" cy="411" r="1.15"/><circle cx="429" cy="409" r="1.15"/><circle cx="431" cy="408" r="1.15"/><circle cx="432" cy="411" r="1.15"/><circle cx="434" cy="410" r="1.15"/><circle cx="418" cy="414" r="1.15"/><circle cx="420" cy="414" r="1.15"/><circle cx="421" cy="417" r="1.15"/><circle cx="422" cy="413" r="1.15"/><circle cx="424" cy="416" r="1.15"/><circle cx="425" cy="416" r="1.15"/><circle cx="427" cy="415" r="1.15"/><circle cx="428" cy="414" r="1.15"/><circle cx="430" cy="416" r="1.15"/><circle cx="431" cy="416" r="1.15"/><circle cx="433" cy="413" r="1.15"/><circle cx="434" cy="413" r="1.15"/><circle cx="418" cy="420" r="1.15"/><circle cx="420" cy="417" r="1.15"/><circle cx="422" cy="418" r="1.15"/><circle cx="424" cy="417" r="1.15"/><circle cx="426" cy="420" r="1.15"/><circle cx="428" cy="419" r="1.15"/><circle cx="430" cy="418" r="1.15"/><circle cx="432" cy="418" r="1.15"/><circle cx="434" cy="421" r="1.15"/><circle cx="418" cy="425" r="1.15"/><circle cx="421" cy="425" r="1.15"/><circle cx="423" cy="422" r="1.15"/><circle cx="426" cy="422" r="1.15"/><circle cx="429" cy="423" r="1.15"/><circle cx="431" cy="424" r="1.15"/><circle cx="434" cy="422" r="1.15"/><circle cx="420" cy="429" r="1.15"/><circle cx="424" cy="426" r="1.15"/><circle cx="428" cy="427" r="1.15"/><circle cx="432" cy="430" r="1.15"/><circle cx="422" cy="432" r="1.15"/><circle cx="426" cy="433" r="1.15"/><circle cx="430" cy="431" r="1.15"/></g>
<path d="M418.15 456.1V415.00H434.05V456.1" fill="none" stroke="#d42a3a" stroke-width="1.8"/>
<path d="M422.00 412.70H430.20M422.00 415.50H430.20M426.10 412.70V415.50" stroke="#111" stroke-width="1.2" fill="none"/>
<rect x="444.05" y="404.13" width="17.7" height="51.97" fill="#b1c8e2"/>
<g fill="#79a0d0"><circle cx="447" cy="383" r="1.15"/><circle cx="451" cy="387" r="1.15"/><circle cx="455" cy="385" r="1.15"/><circle cx="459" cy="387" r="1.15"/><circle cx="447" cy="390" r="1.15"/><circle cx="451" cy="388" r="1.15"/><circle cx="455" cy="392" r="1.15"/><circle cx="459" cy="389" r="1.15"/><circle cx="445" cy="395" r="1.15"/><circle cx="448" cy="395" r="1.15"/><circle cx="450" cy="396" r="1.15"/><circle cx="453" cy="393" r="1.15"/><circle cx="456" cy="394" r="1.15"/><circle cx="458" cy="396" r="1.15"/><circle cx="461" cy="393" r="1.15"/><circle cx="445" cy="398" r="1.15"/><circle cx="447" cy="400" r="1.15"/><circle cx="449" cy="399" r="1.15"/><circle cx="452" cy="400" r="1.15"/><circle cx="454" cy="400" r="1.15"/><circle cx="456" cy="398" r="1.15"/><circle cx="459" cy="398" r="1.15"/><circle cx="461" cy="400" r="1.15"/><circle cx="445" cy="402" r="1.15"/><circle cx="447" cy="405" r="1.15"/><circle cx="449" cy="402" r="1.15"/><circle cx="451" cy="402" r="1.15"/><circle cx="453" cy="403" r="1.15"/><circle cx="455" cy="404" r="1.15"/><circle cx="457" cy="405" r="1.15"/><circle cx="459" cy="404" r="1.15"/><circle cx="461" cy="404" r="1.15"/><circle cx="445" cy="408" r="1.15"/><circle cx="446" cy="407" r="1.15"/><circle cx="448" cy="407" r="1.15"/><circle cx="450" cy="408" r="1.15"/><circle cx="451" cy="409" r="1.15"/><circle cx="453" cy="406" r="1.15"/><circle cx="454" cy="406" r="1.15"/><circle cx="456" cy="406" r="1.15"/><circle cx="458" cy="410" r="1.15"/><circle cx="459" cy="407" r="1.15"/><circle cx="461" cy="409" r="1.15"/><circle cx="445" cy="411" r="1.15"/><circle cx="448" cy="414" r="1.15"/><circle cx="450" cy="412" r="1.15"/><circle cx="453" cy="410" r="1.15"/><circle cx="456" cy="411" r="1.15"/><circle cx="458" cy="412" r="1.15"/><circle cx="461" cy="413" r="1.15"/><circle cx="445" cy="417" r="1.15"/><circle cx="449" cy="415" r="1.15"/><circle cx="453" cy="415" r="1.15"/><circle cx="457" cy="418" r="1.15"/><circle cx="461" cy="416" r="1.15"/><circle cx="449" cy="420" r="1.15"/><circle cx="453" cy="420" r="1.15"/><circle cx="457" cy="422" r="1.15"/><circle cx="453" cy="427" r="1.15"/><circle cx="453" cy="428" r="1.15"/></g>
<path d="M444.95 456.1V405.03H460.85V456.1" fill="none" stroke="#4a78b6" stroke-width="1.8"/>
<path d="M448.80 402.68H457.00M448.80 405.58H457.00M452.90 402.68V405.58" stroke="#111" stroke-width="1.2" fill="none"/>
<rect x="488.85" y="399.69" width="17.7" height="56.41" fill="#e8a1ab"/>
<g fill="#da5e78"><circle cx="498" cy="333" r="1.15"/><circle cx="498" cy="365" r="1.15"/><circle cx="498" cy="366" r="1.15"/><circle cx="498" cy="370" r="1.15"/><circle cx="498" cy="377" r="1.15"/><circle cx="494" cy="382" r="1.15"/><circle cx="498" cy="382" r="1.15"/><circle cx="502" cy="379" r="1.15"/><circle cx="496" cy="385" r="1.15"/><circle cx="500" cy="386" r="1.15"/><circle cx="490" cy="390" r="1.15"/><circle cx="493" cy="389" r="1.15"/><circle cx="496" cy="390" r="1.15"/><circle cx="499" cy="388" r="1.15"/><circle cx="503" cy="387" r="1.15"/><circle cx="506" cy="391" r="1.15"/><circle cx="490" cy="395" r="1.15"/><circle cx="492" cy="395" r="1.15"/><circle cx="495" cy="392" r="1.15"/><circle cx="498" cy="393" r="1.15"/><circle cx="500" cy="393" r="1.15"/><circle cx="503" cy="393" r="1.15"/><circle cx="506" cy="395" r="1.15"/><circle cx="492" cy="397" r="1.15"/><circle cx="496" cy="399" r="1.15"/><circle cx="500" cy="397" r="1.15"/><circle cx="504" cy="398" r="1.15"/><circle cx="490" cy="401" r="1.15"/><circle cx="492" cy="401" r="1.15"/><circle cx="494" cy="402" r="1.15"/><circle cx="496" cy="402" r="1.15"/><circle cx="498" cy="405" r="1.15"/><circle cx="500" cy="402" r="1.15"/><circle cx="502" cy="404" r="1.15"/><circle cx="504" cy="402" r="1.15"/><circle cx="506" cy="403" r="1.15"/><circle cx="490" cy="407" r="1.15"/><circle cx="492" cy="408" r="1.15"/><circle cx="494" cy="408" r="1.15"/><circle cx="496" cy="410" r="1.15"/><circle cx="498" cy="408" r="1.15"/><circle cx="500" cy="408" r="1.15"/><circle cx="502" cy="407" r="1.15"/><circle cx="504" cy="405" r="1.15"/><circle cx="506" cy="408" r="1.15"/><circle cx="490" cy="412" r="1.15"/><circle cx="494" cy="414" r="1.15"/><circle cx="498" cy="413" r="1.15"/><circle cx="502" cy="414" r="1.15"/><circle cx="506" cy="411" r="1.15"/><circle cx="492" cy="417" r="1.15"/><circle cx="496" cy="418" r="1.15"/><circle cx="500" cy="417" r="1.15"/><circle cx="504" cy="415" r="1.15"/><circle cx="496" cy="419" r="1.15"/><circle cx="500" cy="423" r="1.15"/><circle cx="496" cy="425" r="1.15"/><circle cx="500" cy="426" r="1.15"/><circle cx="496" cy="429" r="1.15"/><circle cx="500" cy="429" r="1.15"/></g>
<path d="M489.75 456.1V400.59H505.65V456.1" fill="none" stroke="#d42a3a" stroke-width="1.8"/>
<path d="M493.60 397.49H501.80M493.60 401.89H501.80M497.70 397.49V401.89" stroke="#111" stroke-width="1.2" fill="none"/>
<rect x="515.65" y="386.02" width="17.7" height="70.08" fill="#b1c8e2"/>
<g fill="#79a0d0"><circle cx="524" cy="320" r="1.15"/><circle cx="524" cy="351" r="1.15"/><circle cx="522" cy="353" r="1.15"/><circle cx="526" cy="355" r="1.15"/><circle cx="522" cy="357" r="1.15"/><circle cx="526" cy="358" r="1.15"/><circle cx="522" cy="361" r="1.15"/><circle cx="526" cy="363" r="1.15"/><circle cx="520" cy="369" r="1.15"/><circle cx="524" cy="366" r="1.15"/><circle cx="528" cy="366" r="1.15"/><circle cx="518" cy="374" r="1.15"/><circle cx="522" cy="370" r="1.15"/><circle cx="526" cy="373" r="1.15"/><circle cx="530" cy="372" r="1.15"/><circle cx="518" cy="377" r="1.15"/><circle cx="522" cy="375" r="1.15"/><circle cx="526" cy="376" r="1.15"/><circle cx="530" cy="376" r="1.15"/><circle cx="516" cy="380" r="1.15"/><circle cx="519" cy="382" r="1.15"/><circle cx="522" cy="382" r="1.15"/><circle cx="524" cy="383" r="1.15"/><circle cx="527" cy="380" r="1.15"/><circle cx="530" cy="381" r="1.15"/><circle cx="532" cy="380" r="1.15"/><circle cx="516" cy="386" r="1.15"/><circle cx="520" cy="385" r="1.15"/><circle cx="523" cy="387" r="1.15"/><circle cx="526" cy="385" r="1.15"/><circle cx="529" cy="383" r="1.15"/><circle cx="532" cy="385" r="1.15"/><circle cx="516" cy="391" r="1.15"/><circle cx="520" cy="392" r="1.15"/><circle cx="524" cy="391" r="1.15"/><circle cx="528" cy="391" r="1.15"/><circle cx="532" cy="388" r="1.15"/><circle cx="516" cy="395" r="1.15"/><circle cx="520" cy="395" r="1.15"/><circle cx="524" cy="395" r="1.15"/><circle cx="528" cy="393" r="1.15"/><circle cx="532" cy="393" r="1.15"/><circle cx="516" cy="397" r="1.15"/><circle cx="520" cy="398" r="1.15"/><circle cx="524" cy="399" r="1.15"/><circle cx="528" cy="400" r="1.15"/><circle cx="532" cy="400" r="1.15"/><circle cx="520" cy="405" r="1.15"/><circle cx="524" cy="401" r="1.15"/><circle cx="528" cy="402" r="1.15"/><circle cx="522" cy="406" r="1.15"/><circle cx="526" cy="407" r="1.15"/><circle cx="518" cy="412" r="1.15"/><circle cx="522" cy="411" r="1.15"/><circle cx="526" cy="412" r="1.15"/><circle cx="530" cy="414" r="1.15"/><circle cx="524" cy="418" r="1.15"/><circle cx="522" cy="423" r="1.15"/><circle cx="526" cy="421" r="1.15"/><circle cx="524" cy="424" r="1.15"/></g>
<path d="M516.55 456.1V386.92H532.45V456.1" fill="none" stroke="#4a78b6" stroke-width="1.8"/>
<path d="M520.40 383.12H528.60M520.40 388.92H528.60M524.50 383.12V388.92" stroke="#111" stroke-width="1.2" fill="none"/>
<rect x="560.45" y="390.02" width="17.7" height="66.08" fill="#e8a1ab"/>
<g fill="#da5e78"><circle cx="569" cy="333" r="1.15"/><circle cx="569" cy="340" r="1.15"/><circle cx="569" cy="350" r="1.15"/><circle cx="567" cy="356" r="1.15"/><circle cx="571" cy="351" r="1.15"/><circle cx="569" cy="363" r="1.15"/><circle cx="567" cy="365" r="1.15"/><circle cx="571" cy="367" r="1.15"/><circle cx="565" cy="370" r="1.15"/><circle cx="569" cy="374" r="1.15"/><circle cx="573" cy="370" r="1.15"/><circle cx="565" cy="377" r="1.15"/><circle cx="569" cy="374" r="1.15"/><circle cx="573" cy="376" r="1.15"/><circle cx="561" cy="379" r="1.15"/><circle cx="564" cy="379" r="1.15"/><circle cx="567" cy="382" r="1.15"/><circle cx="569" cy="379" r="1.15"/><circle cx="572" cy="381" r="1.15"/><circle cx="575" cy="381" r="1.15"/><circle cx="577" cy="381" r="1.15"/><circle cx="561" cy="384" r="1.15"/><circle cx="565" cy="383" r="1.15"/><circle cx="568" cy="387" r="1.15"/><circle cx="571" cy="386" r="1.15"/><circle cx="574" cy="387" r="1.15"/><circle cx="577" cy="387" r="1.15"/><circle cx="563" cy="391" r="1.15"/><circle cx="567" cy="390" r="1.15"/><circle cx="571" cy="392" r="1.15"/><circle cx="575" cy="392" r="1.15"/><circle cx="561" cy="393" r="1.15"/><circle cx="565" cy="395" r="1.15"/><circle cx="568" cy="396" r="1.15"/><circle cx="571" cy="393" r="1.15"/><circle cx="574" cy="394" r="1.15"/><circle cx="577" cy="392" r="1.15"/><circle cx="561" cy="401" r="1.15"/><circle cx="564" cy="399" r="1.15"/><circle cx="567" cy="398" r="1.15"/><circle cx="569" cy="400" r="1.15"/><circle cx="572" cy="399" r="1.15"/><circle cx="575" cy="400" r="1.15"/><circle cx="577" cy="397" r="1.15"/><circle cx="569" cy="405" r="1.15"/><circle cx="561" cy="409" r="1.15"/><circle cx="565" cy="407" r="1.15"/><circle cx="569" cy="406" r="1.15"/><circle cx="573" cy="407" r="1.15"/><circle cx="577" cy="407" r="1.15"/><circle cx="565" cy="410" r="1.15"/><circle cx="569" cy="410" r="1.15"/><circle cx="573" cy="411" r="1.15"/><circle cx="567" cy="415" r="1.15"/><circle cx="571" cy="419" r="1.15"/><circle cx="567" cy="422" r="1.15"/><circle cx="571" cy="421" r="1.15"/><circle cx="565" cy="426" r="1.15"/><circle cx="569" cy="426" r="1.15"/><circle cx="573" cy="427" r="1.15"/></g>
<path d="M561.35 456.1V390.92H577.25V456.1" fill="none" stroke="#d42a3a" stroke-width="1.8"/>
<path d="M565.20 387.22H573.40M565.20 392.82H573.40M569.30 387.22V392.82" stroke="#111" stroke-width="1.2" fill="none"/>
<rect x="587.25" y="375.43" width="17.7" height="80.67" fill="#b1c8e2"/>
<g fill="#79a0d0"><circle cx="596" cy="286" r="1.15"/><circle cx="596" cy="313" r="1.15"/><circle cx="596" cy="335" r="1.15"/><circle cx="594" cy="337" r="1.15"/><circle cx="598" cy="337" r="1.15"/><circle cx="594" cy="341" r="1.15"/><circle cx="598" cy="343" r="1.15"/><circle cx="596" cy="348" r="1.15"/><circle cx="594" cy="351" r="1.15"/><circle cx="598" cy="351" r="1.15"/><circle cx="594" cy="355" r="1.15"/><circle cx="598" cy="356" r="1.15"/><circle cx="592" cy="362" r="1.15"/><circle cx="596" cy="361" r="1.15"/><circle cx="600" cy="358" r="1.15"/><circle cx="588" cy="364" r="1.15"/><circle cx="591" cy="363" r="1.15"/><circle cx="593" cy="366" r="1.15"/><circle cx="596" cy="366" r="1.15"/><circle cx="599" cy="363" r="1.15"/><circle cx="601" cy="363" r="1.15"/><circle cx="604" cy="365" r="1.15"/><circle cx="592" cy="370" r="1.15"/><circle cx="596" cy="370" r="1.15"/><circle cx="600" cy="371" r="1.15"/><circle cx="590" cy="375" r="1.15"/><circle cx="594" cy="371" r="1.15"/><circle cx="598" cy="373" r="1.15"/><circle cx="602" cy="373" r="1.15"/><circle cx="592" cy="379" r="1.15"/><circle cx="596" cy="377" r="1.15"/><circle cx="600" cy="378" r="1.15"/><circle cx="588" cy="384" r="1.15"/><circle cx="591" cy="382" r="1.15"/><circle cx="593" cy="383" r="1.15"/><circle cx="596" cy="381" r="1.15"/><circle cx="599" cy="384" r="1.15"/><circle cx="601" cy="382" r="1.15"/><circle cx="604" cy="384" r="1.15"/><circle cx="594" cy="386" r="1.15"/><circle cx="598" cy="389" r="1.15"/><circle cx="590" cy="391" r="1.15"/><circle cx="594" cy="390" r="1.15"/><circle cx="598" cy="392" r="1.15"/><circle cx="602" cy="393" r="1.15"/><circle cx="592" cy="395" r="1.15"/><circle cx="596" cy="395" r="1.15"/><circle cx="600" cy="395" r="1.15"/><circle cx="592" cy="398" r="1.15"/><circle cx="596" cy="398" r="1.15"/><circle cx="600" cy="398" r="1.15"/><circle cx="592" cy="407" r="1.15"/><circle cx="596" cy="404" r="1.15"/><circle cx="600" cy="403" r="1.15"/><circle cx="594" cy="409" r="1.15"/><circle cx="598" cy="408" r="1.15"/><circle cx="596" cy="414" r="1.15"/><circle cx="596" cy="419" r="1.15"/><circle cx="594" cy="422" r="1.15"/><circle cx="598" cy="423" r="1.15"/></g>
<path d="M588.15 456.1V376.33H604.05V456.1" fill="none" stroke="#4a78b6" stroke-width="1.8"/>
<path d="M592.00 371.83H600.20M592.00 379.03H600.20M596.10 371.83V379.03" stroke="#111" stroke-width="1.2" fill="none"/>
<rect x="632.05" y="384.30" width="17.7" height="71.80" fill="#e8a1ab"/>
<g fill="#da5e78"><circle cx="641" cy="310" r="1.15"/><circle cx="637" cy="339" r="1.15"/><circle cx="641" cy="337" r="1.15"/><circle cx="645" cy="340" r="1.15"/><circle cx="641" cy="342" r="1.15"/><circle cx="641" cy="349" r="1.15"/><circle cx="637" cy="356" r="1.15"/><circle cx="641" cy="358" r="1.15"/><circle cx="645" cy="357" r="1.15"/><circle cx="641" cy="364" r="1.15"/><circle cx="637" cy="364" r="1.15"/><circle cx="641" cy="367" r="1.15"/><circle cx="645" cy="367" r="1.15"/><circle cx="633" cy="371" r="1.15"/><circle cx="637" cy="370" r="1.15"/><circle cx="641" cy="373" r="1.15"/><circle cx="645" cy="373" r="1.15"/><circle cx="649" cy="369" r="1.15"/><circle cx="635" cy="376" r="1.15"/><circle cx="639" cy="376" r="1.15"/><circle cx="643" cy="374" r="1.15"/><circle cx="647" cy="375" r="1.15"/><circle cx="635" cy="379" r="1.15"/><circle cx="639" cy="382" r="1.15"/><circle cx="643" cy="381" r="1.15"/><circle cx="647" cy="380" r="1.15"/><circle cx="637" cy="384" r="1.15"/><circle cx="641" cy="383" r="1.15"/><circle cx="645" cy="385" r="1.15"/><circle cx="633" cy="388" r="1.15"/><circle cx="636" cy="388" r="1.15"/><circle cx="639" cy="387" r="1.15"/><circle cx="642" cy="390" r="1.15"/><circle cx="646" cy="389" r="1.15"/><circle cx="649" cy="387" r="1.15"/><circle cx="633" cy="392" r="1.15"/><circle cx="637" cy="394" r="1.15"/><circle cx="641" cy="393" r="1.15"/><circle cx="645" cy="392" r="1.15"/><circle cx="649" cy="392" r="1.15"/><circle cx="633" cy="396" r="1.15"/><circle cx="637" cy="400" r="1.15"/><circle cx="641" cy="398" r="1.15"/><circle cx="645" cy="399" r="1.15"/><circle cx="649" cy="397" r="1.15"/><circle cx="637" cy="402" r="1.15"/><circle cx="641" cy="402" r="1.15"/><circle cx="645" cy="401" r="1.15"/><circle cx="635" cy="405" r="1.15"/><circle cx="639" cy="408" r="1.15"/><circle cx="643" cy="406" r="1.15"/><circle cx="647" cy="408" r="1.15"/><circle cx="639" cy="411" r="1.15"/><circle cx="643" cy="412" r="1.15"/><circle cx="641" cy="417" r="1.15"/><circle cx="639" cy="419" r="1.15"/><circle cx="643" cy="421" r="1.15"/><circle cx="637" cy="425" r="1.15"/><circle cx="641" cy="424" r="1.15"/><circle cx="645" cy="424" r="1.15"/></g>
<path d="M632.95 456.1V385.20H648.85V456.1" fill="none" stroke="#d42a3a" stroke-width="1.8"/>
<path d="M636.80 381.10H645.00M636.80 387.50H645.00M640.90 381.10V387.50" stroke="#111" stroke-width="1.2" fill="none"/>
<rect x="658.85" y="370.32" width="17.7" height="85.78" fill="#b1c8e2"/>
<g fill="#79a0d0"><circle cx="668" cy="284" r="1.15"/><circle cx="668" cy="300" r="1.15"/><circle cx="666" cy="324" r="1.15"/><circle cx="670" cy="320" r="1.15"/><circle cx="666" cy="326" r="1.15"/><circle cx="670" cy="326" r="1.15"/><circle cx="666" cy="333" r="1.15"/><circle cx="670" cy="337" r="1.15"/><circle cx="668" cy="339" r="1.15"/><circle cx="664" cy="345" r="1.15"/><circle cx="668" cy="344" r="1.15"/><circle cx="672" cy="344" r="1.15"/><circle cx="666" cy="350" r="1.15"/><circle cx="670" cy="349" r="1.15"/><circle cx="664" cy="354" r="1.15"/><circle cx="668" cy="354" r="1.15"/><circle cx="672" cy="353" r="1.15"/><circle cx="664" cy="359" r="1.15"/><circle cx="668" cy="358" r="1.15"/><circle cx="672" cy="359" r="1.15"/><circle cx="664" cy="363" r="1.15"/><circle cx="668" cy="362" r="1.15"/><circle cx="672" cy="362" r="1.15"/><circle cx="664" cy="366" r="1.15"/><circle cx="668" cy="368" r="1.15"/><circle cx="672" cy="368" r="1.15"/><circle cx="660" cy="372" r="1.15"/><circle cx="664" cy="370" r="1.15"/><circle cx="668" cy="370" r="1.15"/><circle cx="672" cy="369" r="1.15"/><circle cx="676" cy="371" r="1.15"/><circle cx="662" cy="376" r="1.15"/><circle cx="666" cy="374" r="1.15"/><circle cx="670" cy="378" r="1.15"/><circle cx="674" cy="377" r="1.15"/><circle cx="662" cy="382" r="1.15"/><circle cx="666" cy="379" r="1.15"/><circle cx="670" cy="379" r="1.15"/><circle cx="674" cy="379" r="1.15"/><circle cx="662" cy="383" r="1.15"/><circle cx="666" cy="383" r="1.15"/><circle cx="670" cy="383" r="1.15"/><circle cx="674" cy="386" r="1.15"/><circle cx="664" cy="389" r="1.15"/><circle cx="668" cy="391" r="1.15"/><circle cx="672" cy="388" r="1.15"/><circle cx="666" cy="395" r="1.15"/><circle cx="670" cy="392" r="1.15"/><circle cx="662" cy="400" r="1.15"/><circle cx="666" cy="401" r="1.15"/><circle cx="670" cy="397" r="1.15"/><circle cx="674" cy="397" r="1.15"/><circle cx="666" cy="405" r="1.15"/><circle cx="670" cy="405" r="1.15"/><circle cx="668" cy="407" r="1.15"/><circle cx="666" cy="413" r="1.15"/><circle cx="670" cy="413" r="1.15"/><circle cx="666" cy="418" r="1.15"/><circle cx="670" cy="418" r="1.15"/><circle cx="668" cy="419" r="1.15"/></g>
<path d="M659.75 456.1V371.22H675.65V456.1" fill="none" stroke="#4a78b6" stroke-width="1.8"/>
<path d="M663.60 366.32H671.80M663.60 374.32H671.80M667.70 366.32V374.32" stroke="#111" stroke-width="1.2" fill="none"/>
<path d="M425.8 375.5H453.2" stroke="#1a1a1a" stroke-width="1.3"/>
<path d="M439.3 360.25V366.75M436.49 361.88L442.11 365.12M436.49 365.12L442.11 361.88" stroke="#000" stroke-width="1.45" stroke-linecap="round"/>
<circle cx="439.3" cy="363.5" r="1.3" fill="#000"/>
<path d="M495.5 313H523" stroke="#000" stroke-width="1.0"/>
<path d="M509.2 298.25V304.75M506.39 299.88L512.01 303.12M506.39 303.12L512.01 299.88" stroke="#000" stroke-width="1.45" stroke-linecap="round"/>
<circle cx="509.2" cy="301.5" r="1.3" fill="#000"/>
<path d="M569 279.5H595.9" stroke="#1a1a1a" stroke-width="1.3"/>
<path d="M582.3 264.15V270.65M579.49 265.77L585.11 269.02M579.49 269.02L585.11 265.77" stroke="#000" stroke-width="1.45" stroke-linecap="round"/>
<circle cx="582.3" cy="267.4" r="1.3" fill="#000"/>
<path d="M643 277.5H669.8" stroke="#1a1a1a" stroke-width="1.3"/>
<path d="M656.2 262.55V269.05M653.39 264.18L659.01 267.43M653.39 267.43L659.01 264.18" stroke="#000" stroke-width="1.45" stroke-linecap="round"/>
<circle cx="656.2" cy="265.8" r="1.3" fill="#000"/>
<circle cx="257.8" cy="484.4" r="3.6" fill="#d42a3a"/>
<text x="269.5" y="488.5" font-size="12.5" fill="#111">Retro-cue</text>
<circle cx="375.5" cy="484.1" r="3.6" fill="#4a78b6"/>
<text x="387.4" y="488.5" font-size="12.5" fill="#111">Neutral-cue</text>
</svg></body></html>
